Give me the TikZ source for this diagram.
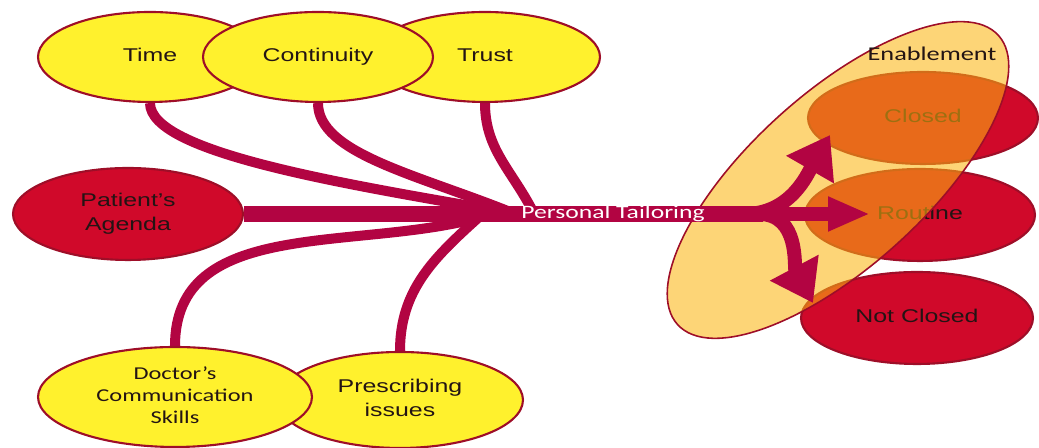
\documentclass[tikz,border=0pt]{standalone}
\usepackage{fontspec}
\setmainfont{Liberation Sans}
\newfontfamily\calibri{Carlito}
\usepackage{tikz}
\usetikzlibrary{shapes.geometric}
\usetikzlibrary{arrows.meta}
\usetikzlibrary{backgrounds}
\definecolor{bubyellow}{RGB}{255,241,45}
\definecolor{bubred}{RGB}{208,9,42}
\definecolor{rimred}{RGB}{158,14,40}
\definecolor{linkred}{RGB}{178,4,66}
\definecolor{enablegold}{RGB}{251,181,15}
\definecolor{inkdark}{RGB}{35,20,20}
\newcommand{\widen}[1]{\scalebox{1.35}[1]{\begin{tabular}{@{}c@{}}#1\end{tabular}}}
\tikzset{
  bubble/.style={ellipse,draw=rimred,line width=1.2pt,inner sep=0pt,text=inkdark,
    font=\fontsize{10.5}{13.5}\selectfont},
  yellowbub/.style={bubble,fill=bubyellow},
  redbub/.style={bubble,fill=bubred},
  link/.style={draw=linkred,line width=0.2cm,line cap=butt},
  branch/.style={draw=linkred,line width=0.28cm,line cap=butt}
}

\begin{document}
\begin{tikzpicture}[line cap=round,line join=round,x=0.02cm,y=0.02cm]
  \useasboundingbox (0,0) rectangle (1039,448);
  % top row
  \node[yellowbub,minimum width=4.48cm,minimum height=1.8cm] (time) at (150,391) {\widen{Time}};
  \node[yellowbub,minimum width=4.6cm,minimum height=1.8cm] (trust) at (485,391) {\widen{Trust}};
  \node[yellowbub,minimum width=4.6cm,minimum height=1.8cm] (continuity) at (318,391) {\widen{Continuity}};
  % left and bottom
  \node[redbub,minimum width=4.6cm,minimum height=1.84cm] (agenda) at (128,234) {\widen{Patient’s\\Agenda}};
  \node[yellowbub,minimum width=4.92cm,minimum height=1.92cm] (prescribing) at (400,48) {\widen{Prescribing\\issues}};
  \node[yellowbub,minimum width=5.48cm,minimum height=2.0cm,font=\calibri\fontsize{10.3}{12.5}\selectfont] (doctor) at (175,51) {\widen{Doctor’s\\Communication\\Skills}};
  % outcomes
  \node[redbub,minimum width=4.6cm,minimum height=1.84cm] (closed) at (923,330) {\widen{Closed}};
  \node[redbub,minimum width=4.6cm,minimum height=1.84cm] (routine) at (920,233) {\widen{Routine}};
  \node[redbub,minimum width=4.64cm,minimum height=1.84cm] (notclosed) at (917,130) {\widen{Not Closed}};
  \node[ellipse,fill=enablegold,fill opacity=0.57,draw=rimred,line width=0.9pt,
    minimum width=8.64cm,minimum height=3.48cm,rotate=42] (enable) at (838,268) {};
  \node[text=inkdark,font=\calibri\fontsize{11.1}{13}\selectfont] (enabletext) at (932,392) {\widen{Enablement}};
  % joins
  \coordinate (join) at (505,236);
  \coordinate (joinlow) at (478,230);
  \coordinate (split) at (745,234);
  \coordinate (closedtip) at (830,313);
  \coordinate (routinetip) at (870,234);
  \coordinate (notclosedtip) at (813,145);
  \begin{scope}[on background layer]
    \draw[link] (time.south) .. controls +(0,-50) and +(-160,28) .. (join);
    \draw[link] (continuity.south) .. controls +(0,-50) and +(-95,38) .. ([xshift=3]join);
    \draw[link] (trust.south) to[out=-90,in=118] ([xshift=15,yshift=2]join);
    \draw[link] (doctor.north) to[out=90,in=195] (joinlow);
    \draw[link] (prescribing.north) to[out=90,in=222] (joinlow);
  \end{scope}
  \draw[draw=linkred,line width=0.33cm,line cap=butt] (agenda.east) -- ([xshift=10]split);
  \draw[branch,-{Triangle[length=0.8cm,width=1.05cm]}] (split) to[out=0,in=240] (closedtip);
  \draw[branch,-{Triangle[length=0.84cm,width=0.64cm]}] (split) -- (routinetip);
  \draw[branch,-{Triangle[length=0.8cm,width=1.05cm]}] ([xshift=8]split) to[out=0,in=118] (notclosedtip);
  \node[text=white,font=\calibri\fontsize{10.8}{13}\selectfont] (tailoring) at (613,234) {\widen{Personal Tailoring}};
\end{tikzpicture}
\end{document}
